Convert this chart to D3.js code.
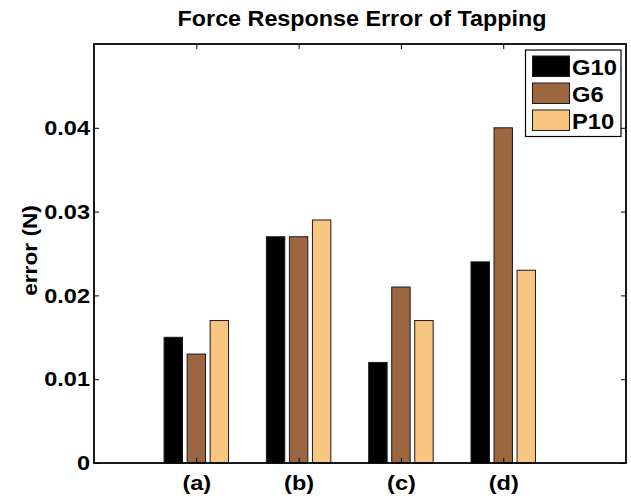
<!DOCTYPE html>
<html>
<head>
<meta charset="utf-8">
<script src="https://cdn.jsdelivr.net/npm/d3@7"></script>
<style>
  html, body { margin: 0; padding: 0; background: #fff; }
  svg { display: block; }
  text { font-family: "Liberation Sans", Arial, Helvetica, sans-serif; font-weight: bold; fill: #000; }
</style>
</head>
<body>
<svg id="chart" width="631" height="499"></svg>
<script>
// Tapping force response error per condition
const categories = ["(a)", "(b)", "(c)", "(d)"];
const seriesNames = ["G10", "G6", "P10"];
const seriesColors = ["#000000", "#9c6641", "#f8c680"];
const g10 = [0.015, 0.027, 0.012, 0.024];
const g6  = [0.013, 0.027, 0.021, 0.040];
const p10 = [0.017, 0.029, 0.017, 0.023];
const yTicks = [0, 0.01, 0.02, 0.03, 0.04];
const yTickLabels = ["0", "0.01", "0.02", "0.03", "0.04"];

const series = [g10, g6, p10];

const svg = d3.select("#chart");
const plotLeft = 94, plotRight = 626, plotTop = 44, plotBottom = 463;

// x runs over category index 1..4 inside a [0, 5.2] window
const x = d3.scaleLinear().domain([0, 5.2]).range([plotLeft, plotRight]);
const y = d3.scaleLinear().domain([0, 0.05]).range([plotBottom, plotTop]);

const step = x(1) - x(0);
const offset = 0.225;   // spacing between bars in a group, in category units
const barW = 0.18;      // bar width, in category units

// slightly wider lettering: stretch each glyph run horizontally
function widen(sel, k) {
  sel.each(function () {
    const len = this.getComputedTextLength();
    d3.select(this).attr("textLength", len * k).attr("lengthAdjust", "spacingAndGlyphs");
  });
}

// bars
series.forEach((vals, s) => {
  svg.append("g")
    .selectAll("rect")
    .data(vals)
    .join("rect")
    .attr("x", (d, i) => x(i + 1 + (s - 1) * offset - barW / 2))
    .attr("y", d => y(d))
    .attr("width", barW * step)
    .attr("height", d => y(0) - y(d))
    .attr("fill", seriesColors[s])
    .attr("stroke", "#1a1a1a")
    .attr("stroke-width", 1);
});

// axes with inward ticks
const tickLen = 5;
const yAxisL = d3.axisLeft(y).tickValues(yTicks).tickSize(-tickLen).tickFormat((d, i) => yTickLabels[i]).tickPadding(4);
const yAxisR = d3.axisRight(y).tickValues(yTicks).tickSize(-tickLen).tickFormat("");
const xAxisB = d3.axisBottom(x).tickValues([1, 2, 3, 4]).tickSize(-tickLen).tickFormat((d, i) => categories[i]).tickPadding(12);
const xAxisT = d3.axisTop(x).tickValues([1, 2, 3, 4]).tickSize(-tickLen).tickFormat("");

function styleAxis(g) {
  g.select(".domain").remove();
  g.selectAll(".tick line").attr("stroke", "#000").attr("stroke-width", 1);
  g.selectAll(".tick text").style("font-size", "21px").attr("fill", "#000").call(widen, 1.12);
}

svg.append("g").attr("transform", `translate(${plotLeft},0)`).call(yAxisL).call(styleAxis);
svg.append("g").attr("transform", `translate(${plotRight},0)`).call(yAxisR).call(styleAxis);
svg.append("g").attr("transform", `translate(0,${plotTop})`).call(xAxisT).call(styleAxis);
svg.append("g").attr("transform", `translate(0,${plotBottom})`).call(xAxisB).call(styleAxis);

// frame
svg.append("rect")
  .attr("x", plotLeft).attr("y", plotTop)
  .attr("width", plotRight - plotLeft).attr("height", plotBottom - plotTop)
  .attr("fill", "none").attr("stroke", "#000").attr("stroke-width", 1.8);

// title
svg.append("text")
  .attr("x", (plotLeft + plotRight) / 2 + 2).attr("y", 26)
  .attr("text-anchor", "middle")
  .style("font-size", "22px")
  .text("Force Response Error of Tapping")
  .call(widen, 1.06);

// y label
svg.append("text")
  .attr("transform", `translate(37,${(plotTop + plotBottom) / 2 - 3}) rotate(-90)`)
  .attr("text-anchor", "middle")
  .style("font-size", "21px")
  .text("error (N)")
  .call(widen, 1.08);

// legend
const lg = svg.append("g");
lg.append("rect")
  .attr("x", 525.5).attr("y", 50).attr("width", 95.5).attr("height", 86.5)
  .attr("fill", "#fff").attr("stroke", "#000").attr("stroke-width", 1.2);
seriesNames.forEach((name, i) => {
  const yy = 56 + i * 27;
  lg.append("rect")
    .attr("x", 532.5).attr("y", yy).attr("width", 37).attr("height", 20.5)
    .attr("fill", seriesColors[i]).attr("stroke", "#1a1a1a").attr("stroke-width", 1);
  lg.append("text")
    .attr("x", 572).attr("y", yy + 19)
    .style("font-size", "22px")
    .text(name)
    .call(widen, 1.08);
});
</script>
</body>
</html>
